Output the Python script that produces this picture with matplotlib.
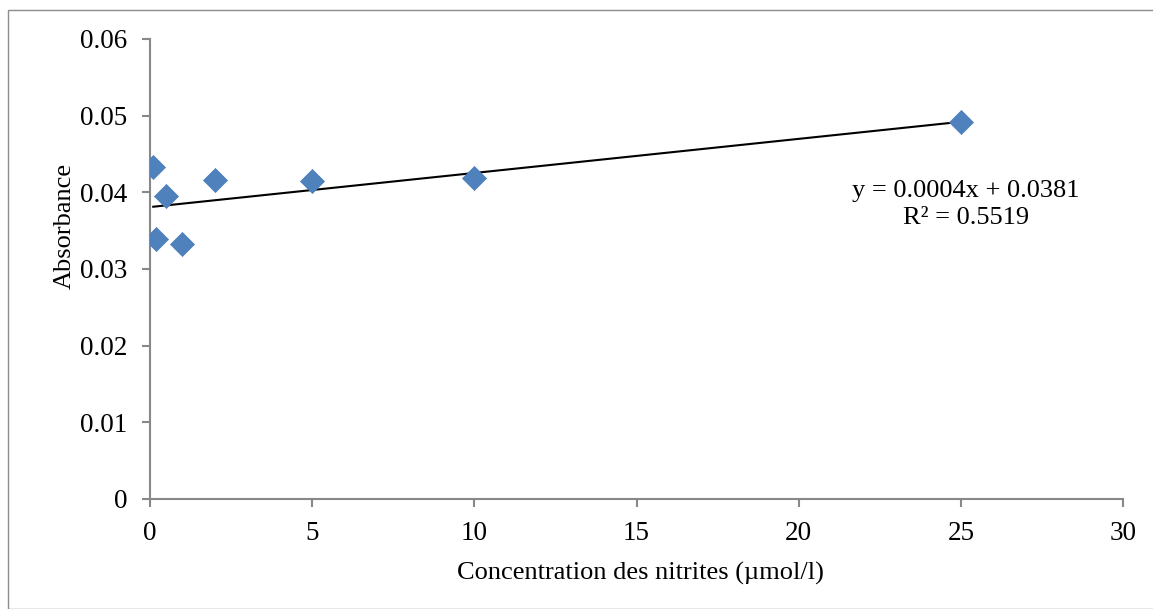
import numpy as np
import matplotlib
matplotlib.use('Agg')
import matplotlib.pyplot as plt
from matplotlib.patches import Rectangle

# nitrite calibration data
concentration = [0.1, 0.2, 0.5, 1, 2, 5, 10, 25]
absorbance = [0.0433, 0.0339, 0.0395, 0.0332, 0.0416, 0.0415, 0.0419, 0.0492]
x_ticks = [0, 5, 10, 15, 20, 25, 30]
y_ticks = [0, 0.01, 0.02, 0.03, 0.04, 0.05, 0.06]
y_tick_labels = ['0', '0.01', '0.02', '0.03', '0.04', '0.05', '0.06']
equation = 'y = 0.0004x + 0.0381'
r_squared = 'R² = 0.5519'

plt.rcParams['font.family'] = ['Liberation Serif', 'DejaVu Serif']

W, H = 1153, 609
fig = plt.figure(figsize=(W / 100, H / 100), dpi=100)
ax = fig.add_axes([150 / W, 1 - 499 / H, (1123 - 150) / W, (499 - 39) / H])

# outer chart frame
fig.patches.append(Rectangle((8 / W, 0), 1.2, 1 - 10 / H, transform=fig.transFigure,
                             fill=False, edgecolor='#8c8c8c', linewidth=1.0))

ax.scatter(concentration, absorbance, marker='D', s=150, color='#4F81BD',
           edgecolors='#4A7EBB', linewidths=0.5, zorder=3)

# linear trend line over the data range
slope, intercept = np.polyfit(concentration, absorbance, 1)
xs = np.array([min(concentration), max(concentration)])
ax.plot(xs, slope * xs + intercept, color='black', linewidth=1.5, zorder=2)

ax.text(25.16, 0.0384, equation + '\n' + r_squared, ha='center', va='center',
        fontsize=19, linespacing=1.25)

ax.set_xlim(0, 30)
ax.set_ylim(0, 0.06)
ax.set_xticks(x_ticks)
ax.set_yticks(y_ticks)
ax.set_yticklabels(y_tick_labels)

for side in ['top', 'right']:
    ax.spines[side].set_visible(False)
for side in ['left', 'bottom']:
    ax.spines[side].set_color('#888888')
    ax.spines[side].set_linewidth(1.5)
ax.tick_params(direction='out', length=5.5, width=1.5, color='#888888',
               labelsize=19.5)
ax.tick_params(axis='x', pad=10)
ax.tick_params(axis='y', pad=11)

ax.set_xlabel('Concentration des nitrites (µmol/l)', fontsize=19)
ax.set_ylabel('Absorbance', fontsize=19)
ax.xaxis.label.set_va('center')
ax.yaxis.label.set_va('center')
ax.xaxis.set_label_coords(0.5 + (640 - 636.5) / 973, (499 - 573) / 460)
ax.yaxis.set_label_coords((65 - 150) / 973, (499 - 226) / 460)

fig.savefig('out.png', dpi=100)
